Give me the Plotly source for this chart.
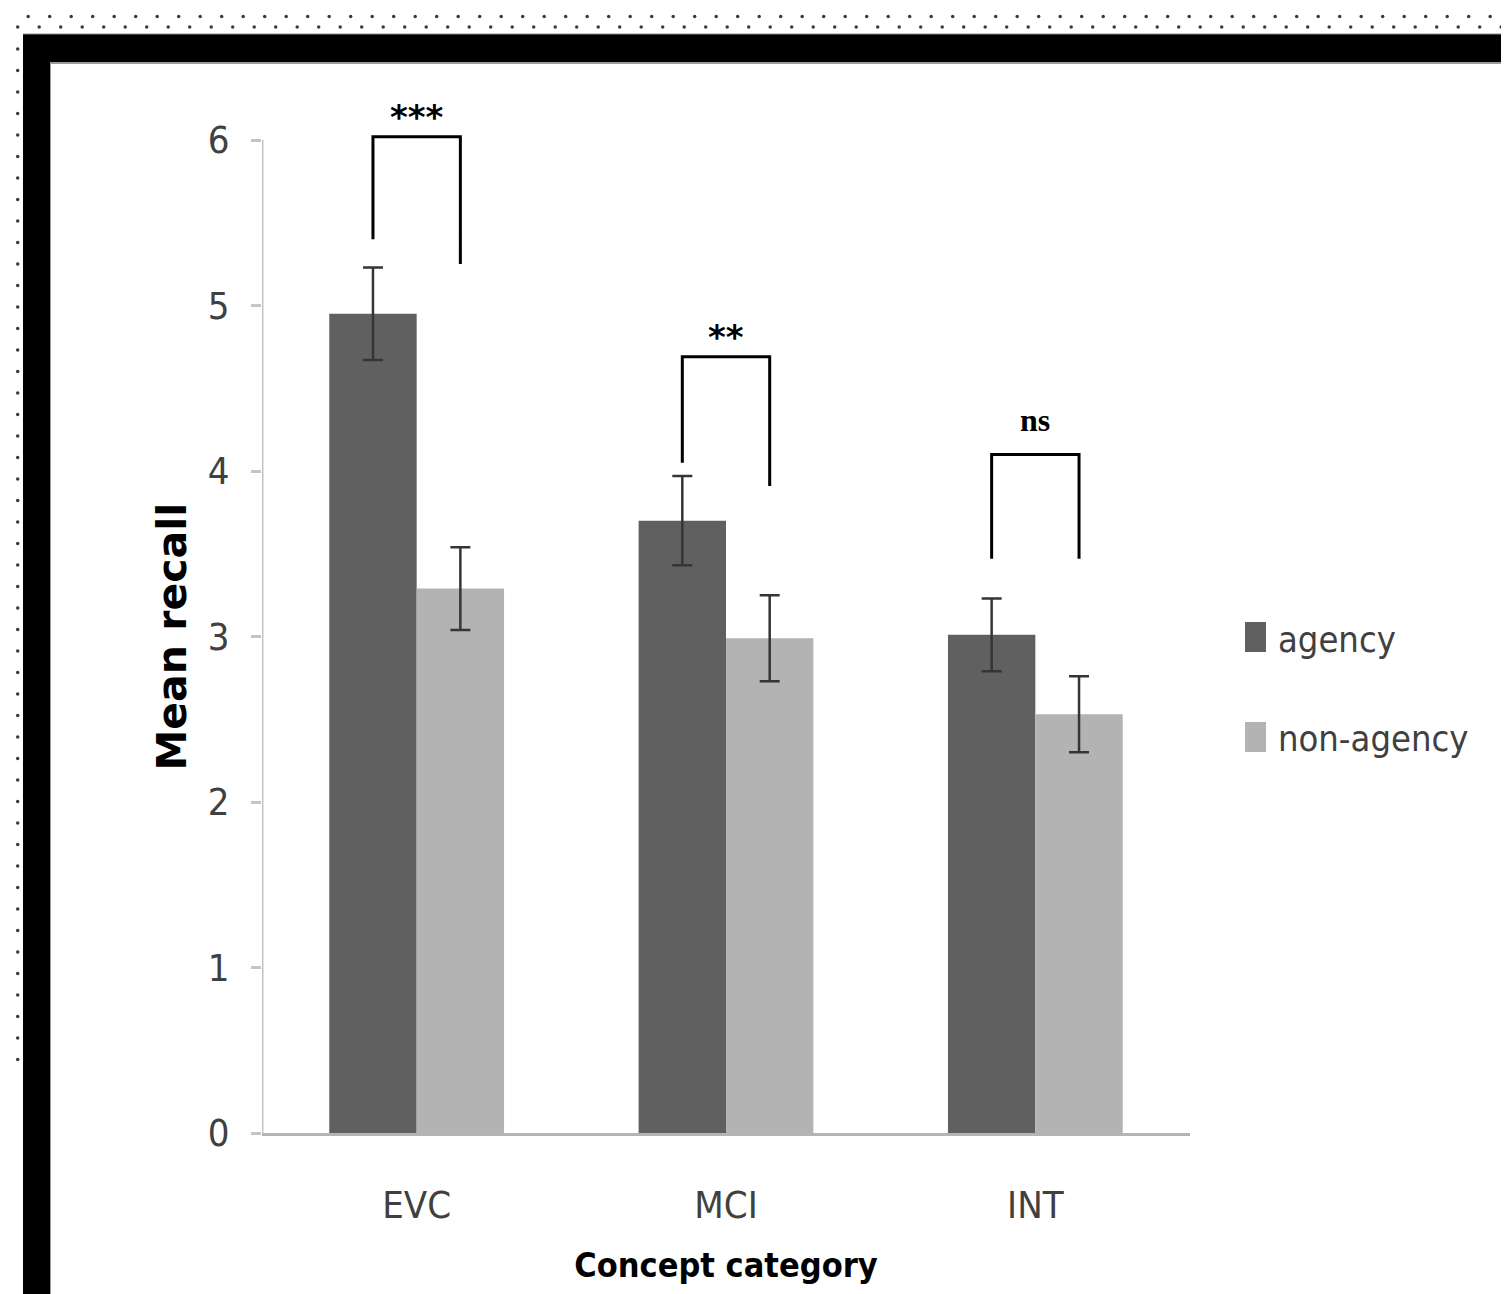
import plotly.graph_objects as go

# ---------------- data ----------------
categories = ["EVC", "MCI", "INT"]
series_names = ["agency", "non-agency"]
agency_mean = [4.95, 3.70, 3.01]
agency_err = [0.28, 0.27, 0.22]
nonagency_mean = [3.29, 2.99, 2.53]
nonagency_err = [0.25, 0.26, 0.23]
y_ticks = [0, 1, 2, 3, 4, 5, 6]
sig_labels = ["***", "**", "ns"]
bracket_top = [6.02, 4.69, 4.10]
bracket_left_end = [5.40, 4.05, 3.47]
bracket_right_end = [5.25, 3.91, 3.47]

# ---------------- styling ----------------
PAGE_OFF = 8               # default page body margin
W, H = 1509, 1294
C_AG = "#606060"
C_NON = "#b3b3b3"
ERR_C = "#353535"
AXIS_C = "#c4c4c4"
TXT_C = "#404040"
NARROW = "Liberation Sans Narrow, DejaVu Sans Condensed, Arial Narrow, Liberation Sans, sans-serif"
BARGAP = 0.435


def fx(p):
    return (p - PAGE_OFF) / W


def fy(p):
    return 1 - (p - PAGE_OFF) / H


# pixel geometry of plot area (page pixels)
X_LEFT, X_RIGHT = 262, 1190
Y_ZERO, Y_SIX = 1133, 140
unit = (Y_ZERO - Y_SIX) / 6.0
Y_MAX = 6.3
y_top_px = Y_ZERO - Y_MAX * unit

xs = list(range(len(categories)))

fig = go.Figure()
fig.add_trace(go.Bar(
    x=xs, y=agency_mean, name=series_names[0], marker_color=C_AG,
    marker_line_width=0, showlegend=False,
    error_y=dict(type="data", array=agency_err, color=ERR_C, thickness=2.5, width=10),
))
fig.add_trace(go.Bar(
    x=xs, y=nonagency_mean, name=series_names[1], marker_color=C_NON,
    marker_line_width=0, showlegend=False,
    error_y=dict(type="data", array=nonagency_err, color=ERR_C, thickness=2.5, width=10),
))

# decorative dotted border (top rows + left column), on a full-figure overlay axis
dx, dy = [], []
step = 21.5
for row_y, start in [(6, 17.7), (16.5, 6.7), (27, 17.7)]:
    xv = start
    while xv < 1509:
        dx.append(xv - PAGE_OFF)
        dy.append(row_y - PAGE_OFF)
        xv += step
for col_x, start in [(7, 38), (17.7, 49)]:
    yv = start
    while yv < 1062:
        dx.append(col_x - PAGE_OFF)
        dy.append(yv - PAGE_OFF)
        yv += step
fig.add_trace(go.Scatter(
    x=dx, y=dy, xaxis="x2", yaxis="y2", mode="markers",
    marker=dict(size=3.5, color="#3a3a3a"), hoverinfo="skip", showlegend=False,
    cliponaxis=False,
))

shapes = []
# frame
shapes.append(dict(type="rect", xref="paper", yref="paper", x0=fx(23), x1=1.01,
                   y0=-0.01, y1=fy(34), fillcolor="black", line_width=0, layer="below"))
shapes.append(dict(type="rect", xref="paper", yref="paper", x0=fx(50), x1=1.01,
                   y0=-0.01, y1=fy(62), fillcolor="white", line_width=0, layer="below"))
shapes.append(dict(type="line", xref="paper", yref="paper", x0=fx(50), x1=1.01,
                   y0=fy(63), y1=fy(63), line=dict(color="#9a9a9a", width=2), layer="below"))
shapes.append(dict(type="line", xref="paper", yref="paper", x0=fx(50.5), x1=fx(50.5),
                   y0=-0.01, y1=fy(62), line=dict(color="#9a9a9a", width=1), layer="below"))
shapes.append(dict(type="line", xref="paper", yref="paper", x0=fx(23), x1=1.01,
                   y0=fy(34), y1=fy(34), line=dict(color="#8a8a8a", width=1), layer="below"))

# y axis line (0 to 6 only)
shapes.append(dict(type="line", xref="x", yref="y", x0=-0.5, x1=-0.5, y0=0, y1=y_ticks[-1],
                   line=dict(color=AXIS_C, width=3)))

# significance brackets
half = (1 - BARGAP) / 4
annotations = []
for i, lab in enumerate(sig_labels):
    l, r = i - half, i + half
    shapes.append(dict(
        type="path", xref="x", yref="y",
        path=f"M {l},{bracket_left_end[i]} L {l},{bracket_top[i]} L {r},{bracket_top[i]} L {r},{bracket_right_end[i]}",
        line=dict(color="black", width=3),
    ))
    is_ns = lab == "ns"
    annotations.append(dict(
        x=i, y=bracket_top[i], xref="x", yref="y", text=lab, showarrow=False,
        yanchor="bottom", yshift=(14 if is_ns else -2),
        font=dict(family=("Liberation Serif, serif" if is_ns else "DejaVu Sans, sans-serif"),
                  size=(32 if is_ns else 34), color="black", weight="bold"),
    ))

# y-axis title, centred on the 0-6 axis line
annotations.append(dict(
    x=fx(172), y=fy((Y_ZERO + Y_SIX) / 2), xref="paper", yref="paper",
    text="Mean recall", textangle=-90, showarrow=False,
    xanchor="center", yanchor="middle",
    font=dict(family="DejaVu Sans, sans-serif", size=41, color="black", weight="bold"),
))

# custom legend
for name, col, cy in [(series_names[0], C_AG, 637), (series_names[1], C_NON, 737)]:
    shapes.append(dict(type="rect", xref="paper", yref="paper",
                       x0=fx(1245), x1=fx(1266), y0=fy(cy + 15), y1=fy(cy - 15),
                       fillcolor=col, line_width=0))
    annotations.append(dict(x=fx(1276), y=fy(cy + 2), xref="paper", yref="paper",
                            text=name, showarrow=False, xanchor="left", yanchor="middle",
                            font=dict(family=NARROW, size=36, color=TXT_C)))

fig.update_layout(
    width=W, height=H,
    margin=dict(l=0, r=0, t=0, b=0),
    paper_bgcolor="white",
    plot_bgcolor="rgba(0,0,0,0)",
    barmode="group", bargap=BARGAP, bargroupgap=0,
    showlegend=False,
    shapes=shapes,
    annotations=annotations,
    xaxis=dict(
        domain=[fx(X_LEFT), fx(X_RIGHT)], range=[-0.5, len(categories) - 0.5],
        tickvals=xs, ticktext=categories, ticks="", showgrid=False, zeroline=False,
        showline=True, linecolor="#b4b4b4", linewidth=3,
        tickfont=dict(family=NARROW, size=38, color=TXT_C),
        ticklabelstandoff=36, automargin=False,
        title=dict(text="Concept category", standoff=28,
                   font=dict(family=NARROW, size=34, color="black", weight="bold")),
    ),
    yaxis=dict(
        domain=[fy(Y_ZERO), fy(y_top_px)], range=[0, Y_MAX],
        tickvals=y_ticks, ticktext=[str(t) for t in y_ticks],
        ticks="outside", ticklen=10, tickwidth=3, tickcolor=AXIS_C,
        showline=False, showgrid=False, zeroline=False,
        tickfont=dict(family=NARROW, size=38, color=TXT_C),
        ticklabelstandoff=14, automargin=False,
    ),
    xaxis2=dict(domain=[0, 1], range=[0, W], anchor="y2", visible=False, fixedrange=True),
    yaxis2=dict(domain=[0, 1], range=[H, 0], anchor="x2", visible=False, fixedrange=True),
)

fig.write_html("out.html")
